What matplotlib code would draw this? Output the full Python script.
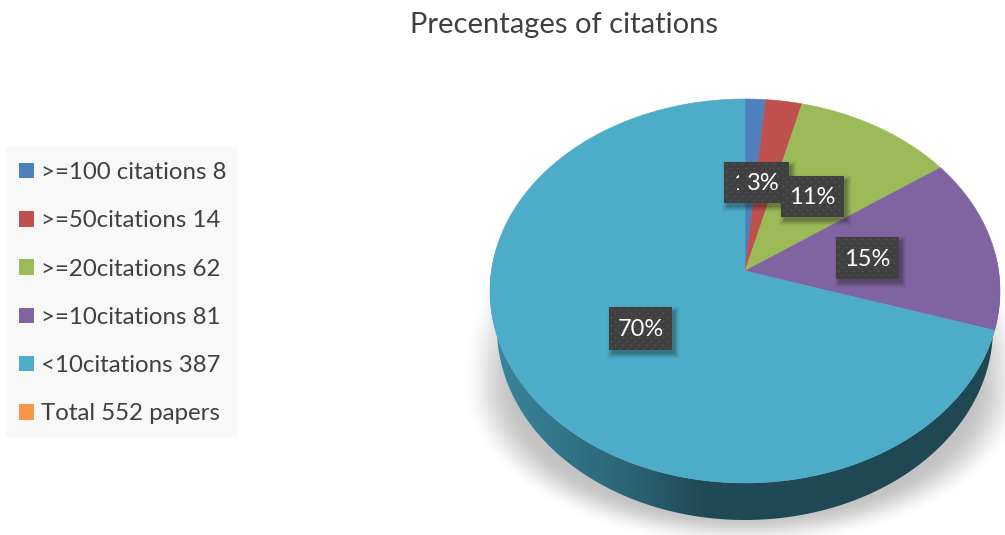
import numpy as np
import matplotlib
matplotlib.use("Agg")
import matplotlib.pyplot as plt
from matplotlib.patches import Polygon, Patch, Rectangle
from matplotlib.colors import LinearSegmentedColormap

title = "Precentages of citations"
categories = [">=100 citations 8", ">=50citations 14", ">=20citations 62",
              ">=10citations 81", "<10citations 387", "Total 552 papers"]
values = [8, 14, 62, 81, 387]
legend_colors = ["#4F81BD", "#C0504D", "#9BBB59", "#8064A2", "#4DADC9", "#F79646"]
pct_labels = ["1%", "3%", "11%", "15%", "70%"]

FONT = "Lato"
INK = "#404040"
plt.rcParams["font.family"] = [FONT, "DejaVu Sans"]

fig = plt.figure(figsize=(10.05, 5.35), dpi=100, facecolor="white")
ax = fig.add_axes([0, 0, 1, 1])
W, H = 1005, 535

# Perspective projection of the unit pie disc to the page
CX, CY, A, B, K = 745.0, 271.0, 253.6, 189.9, 0.104


def project(theta):
    x, y = np.sin(theta), np.cos(theta)
    w = 1 + K * y
    return CX + A * x / w, CY - B * y / w


# soft ground shadow
yy, xx = np.mgrid[0:H, 0:W]
sy = np.where(yy < 385, 250.0, 155.0)
d = np.sqrt(((xx - 744) / 272.0) ** 2 + ((yy - 385) / sy) ** 2)
shade = np.clip((1.04 - d) / 0.20, 0, 1)
shade = shade * shade * (3 - 2 * shade)
rgba = np.zeros((H, W, 4))
rgba[..., :3] = 0.55
rgba[..., 3] = shade * 0.52
ax.imshow(rgba, extent=(0, W, H, 0), aspect="auto", zorder=1, interpolation="bilinear")

# side wall of the disc
t = np.linspace(np.pi / 2 - 0.1, 3 * np.pi / 2 + 0.1, 300)
rx, ry = project(t)
ell_cx, ell_cy, ell_ry = 745.0, 291.0, 192.0
bx = ell_cx + 248.0 * np.sin(t)
by = ell_cy + 37 - ell_ry * np.cos(t)
wall = Polygon(np.r_[np.c_[rx, ry], np.c_[bx, by][::-1]], closed=True,
               facecolor="none", edgecolor="none", transform=ax.transData)
ax.add_patch(wall)
cmap = LinearSegmentedColormap.from_list(
    "wall", [(0, "#3A879E"), (0.12, "#33788C"), (0.27, "#2B6475"),
             (0.42, "#204A55"), (1, "#1F4852")])
grad = np.linspace(0, 1, 512)[None, :]
im = ax.imshow(grad, extent=(490, 1000, H, 0), aspect="auto", cmap=cmap, zorder=2)
im.set_clip_path(wall)

# pie top surface, drawn from the values
angles = np.r_[0, np.cumsum(values)] / np.sum(values) * 2 * np.pi
for a0, a1, col in zip(angles[:-1], angles[1:], legend_colors):
    th = np.linspace(a0, a1, max(3, int((a1 - a0) * 120)))
    px, py = project(th)
    ax.add_patch(Polygon(np.r_[[[CX, CY]], np.c_[px, py]], closed=True,
                         facecolor=col, edgecolor=col, lw=0.4, zorder=3))


def label_shadow(x0, y0, x1, y1, z):
    for g, al in zip([5, 4, 3, 2, 1, 0], [0.03, 0.04, 0.06, 0.07, 0.09, 0.11]):
        ax.add_patch(Rectangle((x0 + 3 - g, y0 + 4 - g), x1 - x0 + 2 * g, y1 - y0 + 2 * g,
                               facecolor="#101010", edgecolor="none", alpha=al, zorder=z))


def box(x0, y0, x1, y1, z):
    ax.add_patch(Rectangle((x0, y0), x1 - x0, y1 - y0, facecolor="#404040",
                           edgecolor="none", zorder=z))
    dots = [(x, y) for j, y in enumerate(np.arange(y0 + 2, y1, 4.0))
            for x in np.arange(x0 + 2 + (j % 2) * 4, x1 - 1, 8.0)]
    dx, dy = zip(*dots)
    ax.scatter(dx, dy, s=1.6, color="#565656", linewidths=0, zorder=z + 0.1)


LABEL_SIZE = 17.0
# label boxes: 1% (mostly hidden), 3%, 11%, 15%, 70%
label_shadow(724, 162, 789, 203, 4)
box(724, 162, 789, 203, 5)
hidden = ax.text(739.5, 184, pct_labels[0][0], color="white", fontsize=LABEL_SIZE,
                 ha="center", va="center", zorder=6)
hidden.set_clip_path(Rectangle((724, 162), 15, 41, transform=ax.transData))
hidden.set_clip_on(True)
ax.text(763.5, 184, pct_labels[1], color="white", fontsize=LABEL_SIZE, ha="center", va="center", zorder=6)
label_shadow(781, 176, 844, 217, 7)
box(781, 176, 844, 217, 8)
ax.text(812.5, 197, pct_labels[2], color="white", fontsize=LABEL_SIZE, ha="center", va="center", zorder=9)
label_shadow(836, 237, 899, 279, 4)
box(836, 237, 899, 279, 5)
ax.text(867.5, 259, pct_labels[3], color="white", fontsize=LABEL_SIZE, ha="center", va="center", zorder=6)
label_shadow(609, 307, 672, 350, 4)
box(609, 307, 672, 350, 5)
ax.text(640.5, 329, pct_labels[4], color="white", fontsize=LABEL_SIZE, ha="center", va="center", zorder=6)

ax.text(564, 33, title, color=INK, fontsize=21, ha="center", va="baseline", zorder=10)

# legend panel and legend
ax.add_patch(Rectangle((6, 147), 231, 290, facecolor="#F8F8F8", edgecolor="none", zorder=9))
handles = [Patch(facecolor=c, edgecolor="none", label=n) for c, n in zip(legend_colors, categories)]
FS = 17.3
PX = 1.389
row_gap = 48.2 / PX - 1.0 * FS * 1.02
leg = ax.legend(handles=handles, loc="upper left", bbox_to_anchor=(19 / W, 1 - 162 / H),
                bbox_transform=ax.transAxes, frameon=False, prop={"family": FONT, "size": FS},
                labelcolor=INK, handlelength=10.8 / FS, handleheight=10.8 / FS,
                handletextpad=7 / PX / FS, labelspacing=(row_gap + 2.58) / FS,
                borderpad=0, borderaxespad=0)
leg.set_zorder(10)

ax.set_xlim(0, W)
ax.set_ylim(H, 0)
ax.axis("off")
fig.savefig("out.png", dpi=100, facecolor="white")
